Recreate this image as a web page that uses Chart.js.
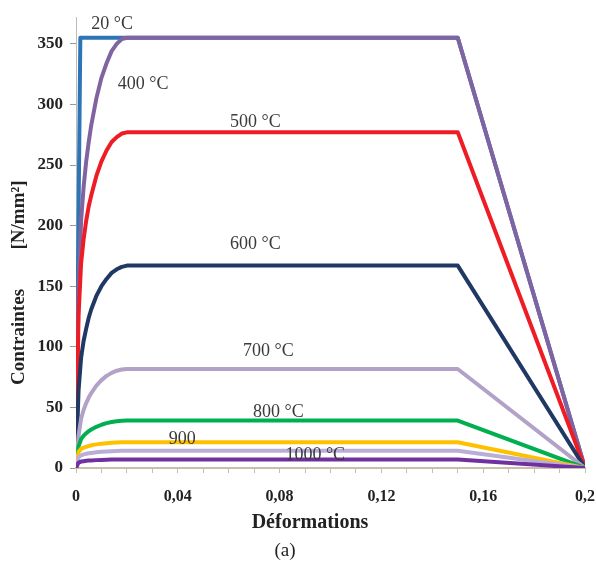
<!DOCTYPE html>
<html>
<head>
<meta charset="utf-8">
<script src="https://cdn.jsdelivr.net/npm/chart.js@4/dist/chart.umd.min.js"></script>
<style>
  html, body { margin: 0; padding: 0; background: #fff; }
  #wrap { width: 596px; height: 567px; }
</style>
</head>
<body>
<div id="wrap"><canvas id="chart" width="596" height="567"></canvas></div>
<script>
// strain points (x) shared by the heated curves
var strain = [0, 0.001, 0.002, 0.003, 0.004, 0.005, 0.006, 0.008, 0.010, 0.012, 0.014, 0.016, 0.018, 0.020, 0.15, 0.2]

var strain20 = [0, 0.0017, 0.15, 0.2]
var stress20 = [0, 355, 355, 0]

var stress400 = [0, 147, 204, 232, 253, 269, 283, 305, 322, 334, 344, 350, 354, 355, 355, 0]
var stress500 = [0, 126, 169, 189, 204, 216, 225, 241, 253, 262, 269, 273, 276, 277, 277, 0]
var stress600 = [0, 64, 91, 105, 115, 124, 131, 142, 150, 156, 161, 164, 166, 167, 167, 0]
var stress700 = [0, 26.6, 40.6, 48.0, 53.6, 58.1, 61.8, 67.9, 72.5, 76.0, 78.5, 80.3, 81.3, 81.7, 81.7, 0]
var stress800 = [0, 17.8, 23.9, 26.7, 28.7, 30.4, 31.8, 34.0, 35.7, 37.0, 37.9, 38.6, 38.9, 39.1, 39.1, 0]
var stress900 = [0, 13.3, 15.8, 16.8, 17.5, 18.2, 18.7, 19.5, 20.1, 20.5, 20.9, 21.1, 21.3, 21.3, 21.3, 0]
var stress1000 = [0, 8.9, 10.5, 11.2, 11.7, 12.1, 12.4, 13.0, 13.4, 13.7, 13.9, 14.1, 14.2, 14.2, 14.2, 0]
var stress1100 = [0, 4.4, 5.3, 5.6, 5.9, 6.1, 6.2, 6.5, 6.7, 6.9, 7.0, 7.0, 7.1, 7.1, 7.1, 0]

var curveNames = ['20 °C', '400 °C', '500 °C', '600 °C', '700 °C', '800 °C', '900 °C', '1000 °C', '1100 °C']
var curveColors = ['#2E75B6', '#8064A2', '#EE1C25', '#1F3864', '#B3A2C7', '#00B050', '#FFC000', '#B9AED8', '#7030A0']

// in-plot labels: text, strain, stress
var labelText = ['20 °C', '400 °C', '500 °C', '600 °C', '700 °C', '800 °C', '900', '1000 °C']
var labelX = [0.0142, 0.0264, 0.0705, 0.0705, 0.0756, 0.0795, 0.0417, 0.094]
var labelY = [366, 317, 285, 185, 96, 46, 24, 10.5]

var yTicks = [0, 50, 100, 150, 200, 250, 300, 350]
var xTickLabels = {0: '0', 4: '0,04', 8: '0,08', 12: '0,12', 16: '0,16', 20: '0,2'}

function toPoints(xs, ys) {
    var pts = []
    for (var i = 0; i < xs.length; i++) {
        pts.push({x: xs[i], y: ys[i]})
    }
    return pts
}

var allStress = [stress20, stress400, stress500, stress600, stress700, stress800, stress900, stress1000, stress1100]
var datasets = []
for (var i = 0; i < allStress.length; i++) {
    var xs = i == 0 ? strain20 : strain
    datasets.push({
        label: curveNames[i],
        data: toPoints(xs, allStress[i]),
        borderColor: curveColors[i],
        backgroundColor: curveColors[i],
        borderWidth: 4,
        pointRadius: 0,
        tension: 0,
        borderJoinStyle: 'round',
        order: 20 - i
    })
}

var serif = '"Liberation Serif", "Times New Roman", serif'

var textPlugin = {
    id: 'texts',
    afterDatasetsDraw: function(chart) {
        var ctx = chart.ctx
        var xs = chart.scales.x, ys = chart.scales.y
        ctx.save()
        ctx.fillStyle = '#3a3a3a'
        ctx.font = '18px ' + serif
        ctx.textAlign = 'center'
        ctx.textBaseline = 'middle'
        for (var i = 0; i < labelText.length; i++) {
            ctx.fillText(labelText[i], xs.getPixelForValue(labelX[i]), ys.getPixelForValue(labelY[i]))
        }
        ctx.restore()
    },
    afterDraw: function(chart) {
        var ctx = chart.ctx
        ctx.save()
        ctx.fillStyle = '#222'
        ctx.textAlign = 'center'
        ctx.textBaseline = 'middle'
        ctx.font = 'bold 20px ' + serif
        ctx.fillText('Déformations', 310, 523)
        ctx.font = '19px ' + serif
        ctx.fillText('(a)', 285, 551)
        // y title, rotated
        ctx.translate(19, 0)
        ctx.rotate(-Math.PI / 2)
        ctx.font = 'bold 19px ' + serif
        ctx.fillText('Contraintes', -337, 0)
        ctx.fillText('[N/mm²]', -215, 0)
        ctx.restore()
    }
}

new Chart(document.getElementById('chart'), {
    type: 'line',
    data: {datasets: datasets},
    options: {
        responsive: false,
        animation: false,
        layout: {padding: {left: 0, right: 0, top: 10, bottom: 0}},
        plugins: {legend: {display: false}, tooltip: {enabled: false}},
        scales: {
            x: {
                type: 'linear',
                min: 0,
                max: 0.2,
                afterFit: function(s) { s.height = 99; s.paddingRight = 11 },
                border: {display: true, color: '#C8BFA8', width: 2},
                grid: {drawOnChartArea: false, drawTicks: true, tickLength: 5, color: '#C8BFA8'},
                ticks: {
                    stepSize: 0.01,
                    autoSkip: false,
                    maxRotation: 0,
                    padding: 14,
                    color: '#222',
                    font: {family: serif, size: 16, weight: 'bold'},
                    callback: function(v) {
                        var k = Math.round(v * 100)
                        return xTickLabels[k] !== undefined ? xTickLabels[k] : ''
                    }
                }
            },
            y: {
                min: 0,
                max: 372,
                afterFit: function(s) { s.width = 76 },
                afterBuildTicks: function(s) {
                    s.ticks = yTicks.map(function(v) { return {value: v} })
                },
                border: {display: true, color: '#BBBBBB', width: 1},
                grid: {drawOnChartArea: false, drawTicks: true, tickLength: 6, color: '#999'},
                ticks: {
                    padding: 7,
                    color: '#222',
                    font: {family: serif, size: 17, weight: 'bold'}
                }
            }
        }
    },
    plugins: [textPlugin]
})
</script>
</body>
</html>
